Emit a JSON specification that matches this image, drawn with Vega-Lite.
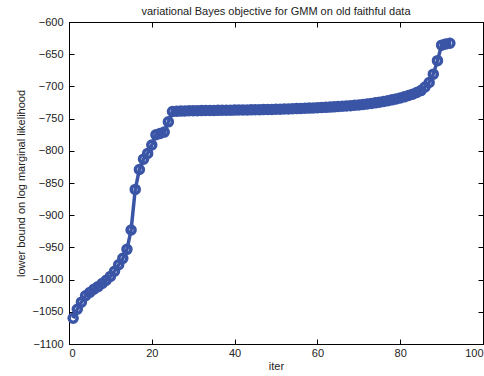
{
  "$schema": "https://vega.github.io/schema/vega-lite/v6.json",
  "width": 414,
  "height": 322,
  "autosize": "none",
  "padding": {"left": 69, "top": 22, "right": 1, "bottom": 32},
  "background": "white",
  "title": {"text": "variational Bayes objective for GMM on old faithful data", "fontSize": 11, "fontWeight": "normal", "font": "Liberation Sans", "offset": -1, "color": "#222"},
  "config": {
    "view": {"stroke": "#000", "strokeWidth": 1},
    "axis": {
      "grid": false,
      "domainColor": "#000",
      "tickColor": "#000",
      "tickSize": -5,
      "labelFont": "Liberation Sans",
      "labelFontSize": 11,
      "labelColor": "#222",
      "titleFont": "Liberation Sans",
      "titleFontSize": 11,
      "titleFontWeight": "normal",
      "titleColor": "#222"
    }
  },
  "data": {"values": [
    {"iter": 1, "lb": -1060}, {"iter": 2, "lb": -1046}, {"iter": 3, "lb": -1035}, {"iter": 4, "lb": -1025},
    {"iter": 5, "lb": -1020}, {"iter": 6, "lb": -1015}, {"iter": 7, "lb": -1011}, {"iter": 8, "lb": -1006},
    {"iter": 9, "lb": -1001}, {"iter": 10, "lb": -995}, {"iter": 11, "lb": -987}, {"iter": 12, "lb": -977},
    {"iter": 13, "lb": -967}, {"iter": 14, "lb": -953}, {"iter": 15, "lb": -923}, {"iter": 16, "lb": -860},
    {"iter": 17, "lb": -829}, {"iter": 18, "lb": -813}, {"iter": 19, "lb": -804}, {"iter": 20, "lb": -791},
    {"iter": 21, "lb": -775}, {"iter": 22, "lb": -773}, {"iter": 23, "lb": -771}, {"iter": 24, "lb": -755},
    {"iter": 25, "lb": -739}, {"iter": 26, "lb": -738.5}, {"iter": 27, "lb": -738.3}, {"iter": 28, "lb": -738.1},
    {"iter": 29, "lb": -737.9}, {"iter": 30, "lb": -737.8}, {"iter": 31, "lb": -737.7}, {"iter": 32, "lb": -737.6},
    {"iter": 33, "lb": -737.5}, {"iter": 34, "lb": -737.4}, {"iter": 35, "lb": -737.3}, {"iter": 36, "lb": -737.2},
    {"iter": 37, "lb": -737.1}, {"iter": 38, "lb": -737.0}, {"iter": 39, "lb": -736.9}, {"iter": 40, "lb": -736.8},
    {"iter": 41, "lb": -736.7}, {"iter": 42, "lb": -736.6}, {"iter": 43, "lb": -736.5}, {"iter": 44, "lb": -736.4},
    {"iter": 45, "lb": -736.3}, {"iter": 46, "lb": -736.1}, {"iter": 47, "lb": -736.0}, {"iter": 48, "lb": -735.8},
    {"iter": 49, "lb": -735.7}, {"iter": 50, "lb": -735.5}, {"iter": 51, "lb": -735.3}, {"iter": 52, "lb": -735.1},
    {"iter": 53, "lb": -734.9}, {"iter": 54, "lb": -734.7}, {"iter": 55, "lb": -734.5}, {"iter": 56, "lb": -734.2},
    {"iter": 57, "lb": -734.0}, {"iter": 58, "lb": -733.7}, {"iter": 59, "lb": -733.4}, {"iter": 60, "lb": -733.1},
    {"iter": 61, "lb": -732.8}, {"iter": 62, "lb": -732.5}, {"iter": 63, "lb": -732.1}, {"iter": 64, "lb": -731.7},
    {"iter": 65, "lb": -731.3}, {"iter": 66, "lb": -730.9}, {"iter": 67, "lb": -730.4}, {"iter": 68, "lb": -729.9},
    {"iter": 69, "lb": -729.3}, {"iter": 70, "lb": -728.7}, {"iter": 71, "lb": -728.0}, {"iter": 72, "lb": -727.2},
    {"iter": 73, "lb": -726.4}, {"iter": 74, "lb": -725.5}, {"iter": 75, "lb": -724.5}, {"iter": 76, "lb": -723.4},
    {"iter": 77, "lb": -722.2}, {"iter": 78, "lb": -720.9}, {"iter": 79, "lb": -719.5}, {"iter": 80, "lb": -718.0},
    {"iter": 81, "lb": -716.2}, {"iter": 82, "lb": -714.2}, {"iter": 83, "lb": -712.0}, {"iter": 84, "lb": -709.5},
    {"iter": 85, "lb": -706.5}, {"iter": 86, "lb": -701}, {"iter": 87, "lb": -694}, {"iter": 88, "lb": -681},
    {"iter": 89, "lb": -660}, {"iter": 90, "lb": -636}, {"iter": 91, "lb": -634}, {"iter": 92, "lb": -633}
  ]},
  "layer": [
    {
      "mark": {"type": "line", "color": "#3a54a6", "strokeWidth": 3.5},
      "encoding": {
        "x": {"field": "iter", "type": "quantitative", "scale": {"domain": [0, 100], "nice": false},
              "axis": {"orient": "bottom", "title": "iter", "values": [0, 20, 40, 60, 80, 100], "labelPadding": 8, "titlePadding": 2}},
        "y": {"field": "lb", "type": "quantitative", "scale": {"domain": [-1100, -600], "nice": false, "zero": false},
              "axis": {"orient": "left", "title": "lower bound on log marginal likelihood", "values": [-1100, -1050, -1000, -950, -900, -850, -800, -750, -700, -650, -600], "format": "d", "labelPadding": 11, "titlePadding": 6}}
      }
    },
    {
      "mark": {"type": "point", "filled": false, "color": "#3a54a6", "size": 64, "strokeWidth": 3.5, "opacity": 1},
      "encoding": {
        "x": {"field": "iter", "type": "quantitative",
              "axis": {"orient": "top", "title": null, "labels": false, "values": [0, 20, 40, 60, 80, 100]}},
        "y": {"field": "lb", "type": "quantitative",
              "axis": {"orient": "right", "title": null, "labels": false, "values": [-1100, -1050, -1000, -950, -900, -850, -800, -750, -700, -650, -600]}}
      }
    }
  ],
  "resolve": {"axis": {"x": "independent", "y": "independent"}}
}
